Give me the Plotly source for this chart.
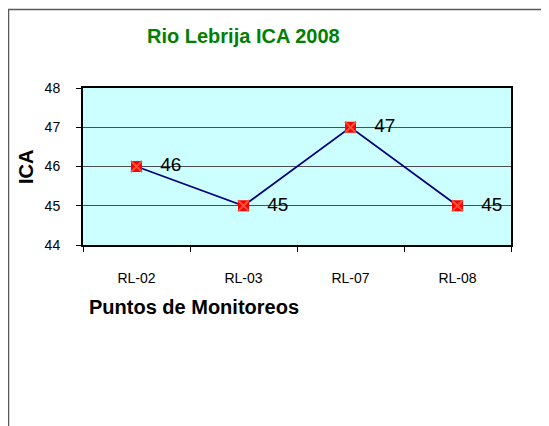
import plotly.graph_objects as go

# data
puntos = ["RL-02", "RL-03", "RL-07", "RL-08"]
ica = [46, 45, 47, 45]
y_ticks = [44, 45, 46, 47, 48]

# page has an 8px body margin, so the figure is 8px smaller than the window
W, H = 541, 418
L, T = 75, 80
pw, ph = 428, 157
R, B = W - L - pw, H - T - ph


def px_x(x):
    return (x - L) / pw


def px_y(y):
    return (T + ph - y) / ph


FONT = "Liberation Sans, Arial, sans-serif"

fig = go.Figure()

fig.add_trace(go.Scatter(
    x=puntos, y=ica,
    mode="lines+markers+text",
    line=dict(color="#000080", width=1.8),
    marker=dict(symbol="square", size=11, color="#FF0000",
                line=dict(color="#FF0000", width=0)),
    text=["   " + str(v) for v in ica],
    textposition="middle right",
    textfont=dict(family=FONT, size=19, color="#000000"),
    cliponaxis=False,
    hoverinfo="x+y",
))
fig.add_trace(go.Scatter(
    x=puntos, y=ica,
    mode="markers",
    marker=dict(symbol="x-thin-open", size=11,
                line=dict(color="#000080", width=1.8)),
    hoverinfo="skip",
))

fig.update_layout(
    width=W, height=H,
    margin=dict(l=L, r=R, t=T, b=B),
    paper_bgcolor="white",
    plot_bgcolor="#CCFFFF",
    showlegend=False,
    font=dict(family=FONT, size=14, color="#000000"),
)

fig.update_xaxes(
    type="category",
    range=[-0.5, 3.5],
    showline=True, linecolor="#000000", linewidth=2, mirror=True,
    ticks="outside", tickson="boundaries", ticklen=5, tickcolor="#000000",
    ticklabelstandoff=19,
    tickfont=dict(size=14),
    showgrid=False, zeroline=False,
)
fig.update_yaxes(
    range=[44, 48],
    tickvals=y_ticks,
    showline=True, linecolor="#000000", linewidth=2, mirror=True,
    ticks="outside", ticklen=5, tickcolor="#000000",
    ticklabelstandoff=13,
    tickfont=dict(size=14),
    showgrid=True, gridcolor="#4d4d4d", gridwidth=1.2,
    zeroline=False,
)

# outer chart frame, running past the right and bottom edges
fig.add_shape(
    type="rect", xref="paper", yref="paper",
    x0=px_x(0.5), x1=px_x(W + 20), y0=px_y(H + 20), y1=px_y(1.5),
    line=dict(color="#5a5a5a", width=1.5), layer="below",
)

fig.add_annotation(
    text="<b>Rio Lebrija ICA 2008</b>", xref="paper", yref="paper",
    x=px_x(235), y=px_y(28), xanchor="center", yanchor="middle",
    showarrow=False,
    font=dict(family=FONT, size=20, color="#008000"),
)
fig.add_annotation(
    text="<b>ICA</b>", xref="paper", yref="paper",
    x=px_x(18), y=px_y(159), xanchor="center", yanchor="middle",
    showarrow=False, textangle=-90,
    font=dict(family=FONT, size=20, color="#000000"),
)
fig.add_annotation(
    text="<b>Puntos de Monitoreos</b>", xref="paper", yref="paper",
    x=px_x(79), y=px_y(299), xanchor="left", yanchor="middle",
    showarrow=False,
    font=dict(family=FONT, size=20, color="#000000"),
)

fig.write_html("out.html")
